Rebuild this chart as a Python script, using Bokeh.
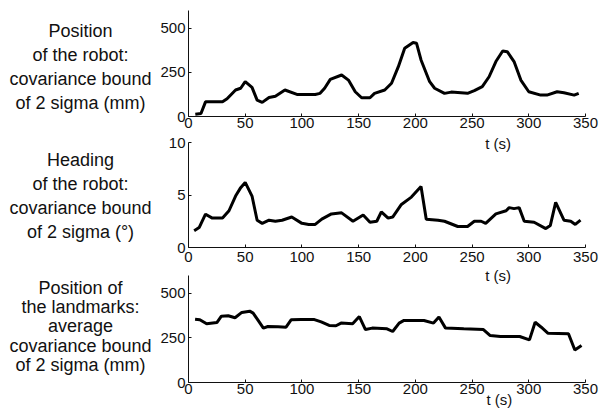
from bokeh.plotting import figure
from bokeh.layouts import column, row
from bokeh.models import Range1d, FixedTicker, Label, Title
from bokeh.embed import file_html
from bokeh.resources import INLINE

# ---- data ----
t_pos = [6, 11, 15, 30, 34, 41.5, 46, 50, 56, 60.5, 65, 71, 76.6, 85, 95.6, 111.7, 116, 120, 125, 135,
         141, 147, 152.6, 160, 164, 173, 179, 185, 190.6, 198, 201, 205, 212.6, 217, 225.7, 231.6, 246,
         252, 259, 265, 271, 277, 281, 287, 293, 300, 310.5, 316, 325, 331, 340, 344]
v_pos = [13, 17, 83, 83, 100, 150, 160, 197, 165, 93, 80, 108, 115, 150, 125, 125, 131, 160, 210, 235,
         206, 140, 106, 106, 131, 150, 188, 282, 386, 419, 415, 320, 197, 160, 131, 138, 131,
         146, 169, 225, 311, 371, 367, 311, 206, 140, 121, 121, 140, 134, 121, 131]

t_head = [5, 9.4, 15, 21, 30, 35.7, 41.5, 46, 50, 56, 60.5, 65, 71, 76.6, 82.5, 91, 100, 106, 111.7,
          117.5, 126, 135, 145, 154, 160, 166, 170, 176, 180, 187.7, 196.5, 205, 209.6, 220, 225.7,
          237.4, 246, 252, 258, 262, 271, 280, 282.7, 287, 291.5, 296, 304.7, 315, 319, 323.7, 331,
          337, 341, 345.6]
v_head = [1.6, 1.9, 3.17, 2.8, 2.8, 3.5, 4.9, 5.7, 6.2, 4.9, 2.6, 2.3, 2.6, 2.5, 2.6, 2.9, 2.3, 2.2, 2.2,
          2.7, 3.2, 3.3, 2.5, 3.1, 2.4, 2.5, 3.4, 2.8, 2.9, 4.1, 4.8, 5.8, 2.7, 2.6, 2.5,
          2.0, 2.0, 2.5, 2.5, 2.3, 3.2, 3.5, 3.8, 3.7, 3.8, 2.5, 2.4, 1.8, 2.1, 4.3, 2.6,
          2.5, 2.2, 2.6]

t_land = [5.8, 10, 16, 25, 29, 35, 41, 47, 54, 57, 61.4, 66, 70, 79, 86, 90.6, 99.4, 111, 117, 124, 130,
          134.5, 144.7, 150.6, 156, 162, 175, 180, 185.7, 190, 207.6, 216, 220.8, 226.6, 242.7, 260,
          266, 275, 292, 300.6, 305.6, 311, 317, 335, 340.6, 346.5]
v_land = [355, 352, 329, 336, 372, 374, 363, 393, 400, 389, 348, 305, 314, 312, 310, 352, 353, 353, 340,
          320, 318, 333, 329, 370, 297, 305, 301, 286, 333, 348, 348, 333, 367, 305, 301, 297,
          263, 258, 258, 239, 338, 310, 276, 273, 182, 207]

x_ticks = [0, 50, 100, 150, 200, 250, 300, 350]
labels = ["Position\nof the robot:\ncovariance bound\nof 2 sigma (mm)",
          "Heading\nof the robot:\ncovariance bound\nof 2 sigma (\u00b0)",
          "Position of\nthe landmarks:\naverage\ncovariance bound\nof 2 sigma (mm)"]
x_label = "t (s)"

FONT = "Liberation Sans"
AX = "#111111"
LEFT_W = 157


def make_fig(height, btop, bbot, ytop, ybound, yticks, xstand):
    p = figure(width=603 - LEFT_W, height=height, x_range=Range1d(0, 350), y_range=Range1d(0, ytop),
               output_backend="svg", toolbar_location=None,
               min_border_left=186 - LEFT_W, min_border_right=18, min_border_top=btop, min_border_bottom=bbot)
    p.outline_line_color = None
    p.background_fill_alpha = 0
    p.border_fill_alpha = 0
    p.xgrid.visible = False
    p.ygrid.visible = False
    for ax in (p.xaxis[0], p.yaxis[0]):
        ax.major_tick_in = 3
        ax.major_tick_out = 0
        ax.minor_tick_line_color = None
        ax.axis_line_color = AX
        ax.major_tick_line_color = AX
        ax.major_label_text_font = FONT
        ax.major_label_text_font_size = "15px"
        ax.major_label_text_color = "#111111"
    p.xaxis.ticker = FixedTicker(ticks=x_ticks)
    p.yaxis.ticker = FixedTicker(ticks=yticks)
    p.yaxis.bounds = (0, ybound)
    p.xaxis.major_label_standoff = xstand
    p.yaxis.major_label_standoff = 3
    return p


# frames: p1 10->116 (0..600), p2 134->247 (0..10 ends at 142), p3 266->382 (0..600 ends at 275)
p1 = make_fig(134, 10, 18, 600, 600, [0, 250, 500], 1)
p2 = make_fig(132, 0, 19, 113 / 10.5, 10, [0, 5, 10], 4)
p3 = make_fig(142, 0, 26, 116 / (107 / 600), 600, [0, 250, 500], 1)

p1.line(t_pos, v_pos, line_color="black", line_width=3)
p2.line(t_head, v_head, line_color="black", line_width=3)
p3.line(t_land, v_land, line_color="black", line_width=3)


def t_label(p, y):
    p.add_layout(Label(x=273, y=y, text=x_label, text_align="center", text_baseline="middle",
                       text_font=FONT, text_font_size="15px", text_color="#111111"))


t_label(p2, (247 - 142.5) / 10.5)
t_label(p3, (382 - 275) / (107 / 600))
p3.add_layout(Title(text=x_label, align="left", offset=298, standoff=-16,
                    text_font=FONT, text_font_size="15px", text_font_style="normal",
                    text_color="#111111"), "below")

# side labels panel (page pixel coordinates, y downwards)
lf = figure(width=LEFT_W, height=408, x_range=Range1d(0, LEFT_W), y_range=Range1d(408, 0),
            output_backend="svg", toolbar_location=None, min_border=0)
lf.axis.visible = False
lf.grid.visible = False
lf.outline_line_color = None
for txt, yc, lh in zip(labels, [66, 195, 326], [1.2, 1.2, 0.96]):
    lf.add_layout(Label(x=80, y=yc, text=txt, text_align="center", text_baseline="middle",
                        text_font=FONT, text_font_size="18px", text_color="#111111",
                        text_line_height=lh))

layout = row(lf, column(p1, p2, p3, spacing=0), spacing=0)
open("out.html", "w").write(file_html(layout, INLINE))
